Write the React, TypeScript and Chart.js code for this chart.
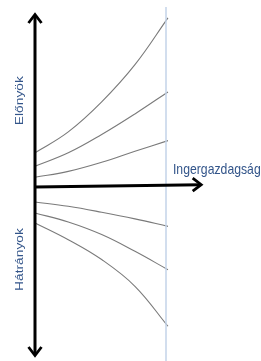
import React, { useEffect, useRef } from "react";
import { Chart, registerables } from "chart.js";

Chart.register(...registerables);

// x: Ingergazdagság (blue reference line at 10), y: előnyök (+) / hátrányok (-)
const xPoints = [0, 2.54, 5.09, 7.63, 10.15];
const benefitHigh = [1.99, 3.19, 4.91, 7.04, 9.72];
const benefitMid = [1.22, 1.99, 3.04, 4.22, 5.48];
const benefitLow = [0.59, 0.93, 1.45, 2.08, 2.69];
const costLow = [-0.82, -1.07, -1.41, -1.79, -2.22];
const costMid = [-1.45, -1.97, -2.69, -3.65, -4.7];
const costHigh = [-2.02, -2.98, -4.12, -5.65, -7.94];
const curves = [benefitHigh, benefitMid, benefitLow, costLow, costMid, costHigh];

const axisLabels = { up: "Előnyök", down: "Hátrányok", right: "Ingergazdagság" };
const referenceX = 10;

export default function App() {
  const ref = useRef<HTMLCanvasElement>(null);
  useEffect(() => {
    document.body.style.margin = "0";
    const canvas = ref.current!;
    const arrowPlugin = {
      id: "arrows",
      afterDatasetsDraw(chart: any) {
        const ctx = chart.ctx as CanvasRenderingContext2D;
        const xs = chart.scales.x;
        const ys = chart.scales.y;
        const px = (v: number) => xs.getPixelForValue(v);
        const py = (v: number) => ys.getPixelForValue(v);
        ctx.save();
        // reference line
        ctx.strokeStyle = "#c3d3e8";
        ctx.lineWidth = 1.5;
        ctx.beginPath();
        ctx.moveTo(px(referenceX), py(10.35));
        ctx.lineTo(px(referenceX), py(-10.5));
        ctx.stroke();
        // axes
        ctx.strokeStyle = "#000";
        ctx.lineWidth = 3;
        ctx.lineCap = "butt";
        const x0 = px(0);
        const yTop = py(10);
        const yBot = py(-9.7);
        ctx.beginPath();
        ctx.moveTo(x0, yTop + 2);
        ctx.lineTo(x0, yBot - 2);
        ctx.stroke();
        const hx1 = px(12.8);
        const hy1 = py(0.17);
        ctx.beginPath();
        ctx.moveTo(x0, py(0) - 0.5);
        ctx.lineTo(hx1 - 2, hy1);
        ctx.stroke();
        ctx.lineJoin = "miter";
        ctx.lineWidth = 2.8;
        const chevron = (tx: number, ty: number, dx: number, dy: number) => {
          const len = 10;
          const half = 6.5;
          const bx = tx - dx * len;
          const by = ty - dy * len;
          const nx = -dy;
          const ny = dx;
          ctx.beginPath();
          ctx.moveTo(bx + nx * half, by + ny * half);
          ctx.lineTo(tx - dx * 1.5, ty - dy * 1.5);
          ctx.lineTo(bx - nx * half, by - ny * half);
          ctx.stroke();
        };
        chevron(x0, yTop, 0, -1);
        chevron(x0, yBot, 0, 1);
        chevron(hx1, hy1, 1, 0);
        // labels
        ctx.fillStyle = "#33558a";
        ctx.textAlign = "center";
        ctx.textBaseline = "middle";
        ctx.font = "11.5px 'Liberation Sans', Arial, sans-serif";
        const vlabel = (text: string, yv: number) => {
          ctx.save();
          ctx.translate(px(-1.15), py(yv));
          ctx.rotate(-Math.PI / 2);
          ctx.scale(1.2, 1);
          ctx.fillText(text, 0, 0);
          ctx.restore();
        };
        vlabel(axisLabels.up, 4.98);
        vlabel(axisLabels.down, -4.12);
        ctx.save();
        ctx.font = "12px 'Liberation Sans', Arial, sans-serif";
        ctx.textAlign = "left";
        ctx.translate(px(10.53), py(1.03));
        ctx.scale(1.02, 1.2);
        ctx.fillText(axisLabels.right, 0, 0);
        ctx.restore();
        ctx.restore();
      },
    };
    const chart = new Chart(canvas, {
      type: "line",
      data: {
        datasets: curves.map((c) => ({
          data: xPoints.map((x, i) => ({ x, y: c[i] })),
          borderColor: "#7a7a7a",
          borderWidth: 1.1,
          pointRadius: 0,
          tension: 0.4,
          clip: false as any,
          fill: false,
        })),
      },
      options: {
        animation: false,
        responsive: false,
        maintainAspectRatio: false,
        layout: { padding: { left: 35, right: 95, top: 13, bottom: 4 } },
        plugins: { legend: { display: false }, tooltip: { enabled: false } },
        scales: {
          x: { type: "linear", min: 0, max: 10, display: false },
          y: { type: "linear", min: -9.7, max: 10, display: false },
        },
      },
      plugins: [arrowPlugin],
    });
    return () => chart.destroy();
  }, []);
  return <canvas ref={ref} width={261} height={361} style={{ display: "block" }} />;
}
